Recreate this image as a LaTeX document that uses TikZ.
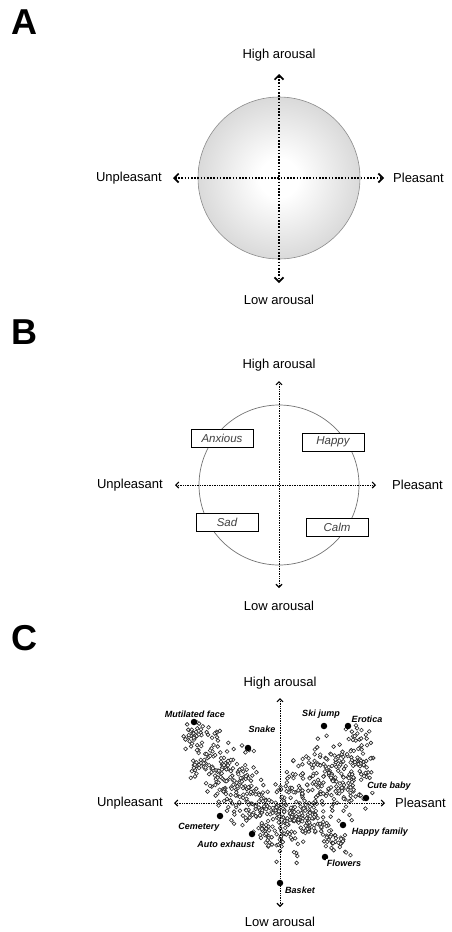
\documentclass[tikz,border=0pt]{standalone}
\usepackage{fontspec}
\setmainfont{Liberation Sans}
\usetikzlibrary{arrows.meta}
\pgfdeclareradialshading{ballshade}{\pgfpoint{0bp}{0bp}}{color(0bp)=(white); color(6bp)=(white); color(50bp)=(black!34)}
\begin{document}
\begin{tikzpicture}[x=1pt,y=-1pt,
  tipA/.tip={Straight Barb[length=4.5pt,width=9pt,line width=1.7pt]},
  tipB/.tip={Straight Barb[length=3pt,width=6pt,line width=1.1pt]},
  axisA/.style={line width=1.6pt, dash pattern=on 1.6pt off 1.6pt, arrows={tipA-tipA}},
  axisB/.style={line width=0.6pt, dash pattern=on 0.7pt off 1pt, arrows={tipB-tipB}},
  axlabel/.style={font=\fontsize{13}{15}\selectfont, inner sep=0pt},
  panel/.style={font=\fontsize{36}{40}\selectfont\bfseries, inner sep=0pt},
  emobox/.style={draw=black, line width=0.7pt, fill=white, minimum width=62pt, minimum height=18pt, inner sep=0pt, font=\fontsize{11.5}{13}\selectfont\itshape, text=black!75},
  ptlabel/.style={font=\fontsize{9}{10}\selectfont\bfseries\itshape, inner sep=0.6pt, fill=white},
  keydot/.style={circle, fill=black, inner sep=0pt, minimum size=6.5pt},
  scat/.style={draw=black!85, line width=0.6pt, fill=white}]
\useasboundingbox (0,0) rectangle (451,932);

% ---------------- Panel A ----------------
\node[panel] (labA) at (24,22) {A};
\node[circle, minimum size=162pt, inner sep=0pt, shade, shading=ballshade, draw=black!45, line width=0.6pt] (ballA) at (279,178) {};
\coordinate (aT) at (279,74);
\coordinate (aB) at (279,283);
\coordinate (aL) at (173,178);
\coordinate (aR) at (384,178);
\draw[axisA] (aT) -- (aB);
\draw[axisA] (aL) -- (aR);
\node[axlabel] (hiA) at (279,55) {High arousal};
\node[axlabel] (loA) at (279,300) {Low arousal};
\node[axlabel, anchor=east] (unA) at (162,178) {Unpleasant};
\node[axlabel, anchor=west] (plA) at (393,178) {Pleasant};

% ---------------- Panel B ----------------
\node[panel] (labB) at (24,332) {B};
\node[circle, minimum size=160pt, inner sep=0pt, draw=black!55, line width=0.7pt] (ringB) at (279,485) {};
\coordinate (bT) at (279,381);
\coordinate (bB) at (279,588);
\coordinate (bL) at (175,485);
\coordinate (bR) at (376,485);
\draw[axisB] (bT) -- (bB);
\draw[axisB] (bL) -- (bR);
\node[axlabel] (hiB) at (279,365) {High arousal};
\node[axlabel] (loB) at (279,606) {Low arousal};
\node[axlabel, anchor=east] (unB) at (163,485) {Unpleasant};
\node[axlabel, anchor=west] (plB) at (392,485) {Pleasant};
\node[emobox] (anx) at (222,438) {Anxious};
\node[emobox] (hap) at (333,442) {Happy};
\node[emobox] (sad) at (227,522) {Sad};
\node[emobox] (calm) at (337,527) {Calm};

% ---------------- Panel C ----------------
\node[panel] (labC) at (24,638) {C};
\pgfmathsetseed{11}
\foreach \i in {1,...,720}{
  \pgfmathsetmacro\v{rand}
  \pgfmathsetmacro\px{280+(\v<0 ? 92 : 88)*\v+8*rand}
  \pgfmathsetmacro\py{804+(\v<0 ? 20+88*\v+22*(rand+rand) : 15-60*\v+28*(rand+rand))}
  \ifdim\py pt<718pt\else
    \draw[scat] (\px,\py) circle[radius=1.9];
  \fi
}
\foreach \i in {1,...,70}{
  \pgfmathsetmacro\t{(1+rand)/2}
  \pgfmathsetmacro\px{285+62*\t+7*rand}
  \pgfmathsetmacro\py{812+36*\t+9*rand}
  \draw[scat] (\px,\py) circle[radius=1.9];
}
\coordinate (cT) at (280,698);
\coordinate (cB) at (280,907);
\coordinate (cL) at (174,803);
\coordinate (cR) at (385,803);
\draw[axisB] (cT) -- (cB);
\draw[axisB] (cL) -- (cR);
\node[axlabel] (hiC) at (280,683) {High arousal};
\node[axlabel] (loC) at (280,922) {Low arousal};
\node[axlabel, anchor=east] (unC) at (163,803) {Unpleasant};
\node[axlabel, anchor=west] (plC) at (395,803) {Pleasant};

\node[keydot] (dMut) at (194,722) {};
\node[keydot] (dSna) at (248,748) {};
\node[keydot] (dSki) at (324,726) {};
\node[keydot] (dEro) at (348,726) {};
\node[keydot] (dCut) at (366,798) {};
\node[keydot] (dCem) at (220,816) {};
\node[keydot] (dAut) at (252,834) {};
\node[keydot] (dHap) at (343,825) {};
\node[keydot] (dFlo) at (325,857) {};
\node[keydot] (dBas) at (280,883) {};

\node[ptlabel] (tMut) at (195,714) {Mutilated face};
\node[ptlabel] (tSna) at (262,729) {Snake};
\node[ptlabel] (tSki) at (321,714) {Ski jump};
\node[ptlabel] (tEro) at (367,719) {Erotica};
\node[ptlabel] (tCut) at (389,786) {Cute baby};
\node[ptlabel] (tCem) at (199,827) {Cemetery};
\node[ptlabel] (tAut) at (226,844) {Auto exhaust};
\node[ptlabel] (tHap) at (380,832) {Happy family};
\node[ptlabel] (tFlo) at (344,863) {Flowers};
\node[ptlabel] (tBas) at (300,890) {Basket};
\end{tikzpicture}
\end{document}
